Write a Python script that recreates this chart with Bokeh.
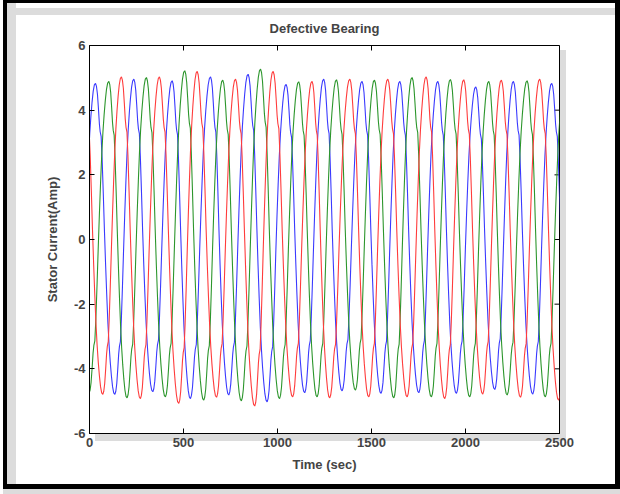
from bokeh.plotting import figure
from bokeh.models import FixedTicker, Range1d
from bokeh.embed import file_html
from bokeh.resources import INLINE

# ---- data (time of each peak / trough and its value) ----
blue_peak_t = [32, 236, 440, 644, 844, 1046, 1246, 1450, 1651, 1853, 2055, 2255, 2459]
blue_peak_v = [4.83, 4.96, 4.91, 5.03, 5.11, 4.80, 4.96, 4.89, 4.89, 4.89, 4.72, 4.89, 4.83]
blue_trough_t = [-70, 135, 337, 537, 741, 945, 1145, 1344, 1551, 1752, 1952, 2156, 2358, 2560]
blue_trough_v = [-4.80, -4.79, -4.71, -4.92, -4.81, -5.02, -4.74, -4.68, -4.76, -4.74, -4.76, -4.64, -4.78, -4.80]

green_peak_t = [103, 303, 507, 709, 910, 1113, 1314, 1516, 1716, 1920, 2124, 2328, 2528]
green_peak_v = [4.89, 5.01, 5.22, 4.93, 5.27, 4.88, 4.94, 4.93, 5.01, 4.95, 4.89, 4.91, 4.90]
green_trough_t = [-2, 200, 404, 608, 808, 1011, 1211, 1415, 1619, 1819, 2023, 2222, 2425]
green_trough_v = [-4.75, -4.90, -4.87, -4.97, -4.99, -4.92, -4.87, -4.66, -4.90, -4.87, -4.87, -4.81, -4.87]

red_peak_t = [-31, 170, 372, 573, 777, 977, 1184, 1385, 1587, 1791, 1991, 2191, 2395, 2598]
red_peak_v = [5.00, 5.03, 5.03, 5.20, 4.96, 5.20, 4.89, 4.96, 4.96, 5.03, 4.94, 4.93, 4.96, 5.00]
red_trough_t = [71, 271, 475, 676, 879, 1081, 1278, 1486, 1690, 1890, 2092, 2293, 2496]
red_trough_v = [-4.79, -4.92, -5.07, -4.88, -5.15, -4.87, -4.90, -4.87, -4.87, -4.92, -4.78, -4.88, -4.97]

# shape of one half cycle (peak -> trough), with the shoulder
half_u = [0.00, 0.05, 0.10, 0.15, 0.20, 0.24, 0.29, 0.34, 0.40, 0.46, 0.52, 0.58, 0.64, 0.70, 0.76, 0.82, 0.88, 0.94, 1.00]
half_w = [1.00, 0.98, 0.93, 0.84, 0.74, 0.69, 0.66, 0.52, 0.30, 0.06, -0.16, -0.36, -0.54, -0.68, -0.79, -0.88, -0.95, -0.99, -1.00]

x_ticks = [0, 500, 1000, 1500, 2000, 2500]
y_ticks = [-6, -4, -2, 0, 2, 4, 6]


def build(peak_t, peak_v, trough_t, trough_v):
    ext = sorted(list(zip(peak_t, peak_v)) + list(zip(trough_t, trough_v)))
    xs, ys = [], []
    for (t0, v0), (t1, v1) in zip(ext[:-1], ext[1:]):
        for u, w in zip(half_u[:-1], half_w[:-1]):
            xs.append(t0 + u * (t1 - t0))
            ys.append(w * v0 if w >= 0 else -w * v1)
    xs.append(ext[-1][0])
    ys.append(ext[-1][1])
    return xs, ys


FONT = "Liberation Sans"
GRAY = "linear-gradient(#dcdcdc,#dcdcdc)"

p = figure(width=617, height=489, output_backend="svg", toolbar_location=None,
           x_range=Range1d(0, 2500), y_range=Range1d(-6, 6),
           min_border_left=82, min_border_right=65, min_border_top=42, min_border_bottom=59,
           background_fill_color="white", border_fill_alpha=0)
p.styles = {
    "margin-left": "3px",
    "box-sizing": "border-box",
    "overflow": "hidden",
    "border-left": "4px solid black",
    "border-top": "3px solid black",
    "border-right": "5px solid black",
    "border-bottom": "5px solid black",
    "box-shadow": "0px 5px 0px 0px #dcdcdc",
    "background-color": "white",
    "background-image": ", ".join([GRAY] * 4),
    "background-size": "9px 100%, 100% 7px, 6px 390px, 471px 7px",
    "background-position": "0px 0px, 0px 5px, 553px 47px, 88px 431px",
    "background-repeat": "no-repeat",
}
p.xgrid.visible = False
p.ygrid.visible = False
p.outline_line_color = "black"
p.outline_line_width = 1

p.title.text = "Defective Bearing"
p.title.align = "center"
p.title.text_font = FONT
p.title.text_font_size = "13px"
p.title.text_font_style = "bold"
p.title.standoff = 19

for ax, ticks in ((p.xaxis[0], x_ticks), (p.yaxis[0], y_ticks)):
    ax.ticker = FixedTicker(ticks=ticks)
    ax.major_label_overrides = {t: str(t) for t in ticks}
    ax.major_tick_in = 5
    ax.major_tick_out = 0
    ax.minor_tick_in = 0
    ax.minor_tick_out = 0
    ax.major_label_text_font = FONT
    ax.major_label_text_font_size = "13px"
    ax.major_label_text_font_style = "bold"
    ax.major_label_standoff = 4
    ax.axis_label_text_font = FONT
    ax.axis_label_text_font_size = "13px"
    ax.axis_label_text_font_style = "bold"
    ax.axis_line_color = "black"

p.xaxis[0].axis_label = "Time (sec)"
p.xaxis[0].axis_label_standoff = 7
p.yaxis[0].axis_label = "Stator Current(Amp)"
p.yaxis[0].axis_label_standoff = 11

# inward ticks on the top and right edges of the box
top_len = 12 / 388 * 5
right_len = 2500 / 470 * 5
p.segment(x0=x_ticks, y0=[6] * len(x_ticks), x1=x_ticks, y1=[6 - top_len] * len(x_ticks),
          line_color="black", line_width=1)
p.segment(x0=[2500] * len(y_ticks), y0=y_ticks, x1=[2500 - right_len] * len(y_ticks), y1=y_ticks,
          line_color="black", line_width=1)

bx, by = build(blue_peak_t, blue_peak_v, blue_trough_t, blue_trough_v)
gx, gy = build(green_peak_t, green_peak_v, green_trough_t, green_trough_v)
rx, ry = build(red_peak_t, red_peak_v, red_trough_t, red_trough_v)
p.line(bx, by, line_color="#3a3aff", line_width=1.1)
p.line(gx, gy, line_color="#2c962c", line_width=1.1)
p.line(rx, ry, line_color="#ff3c3c", line_width=1.1)

open("out.html", "w").write(file_html(p, INLINE))
